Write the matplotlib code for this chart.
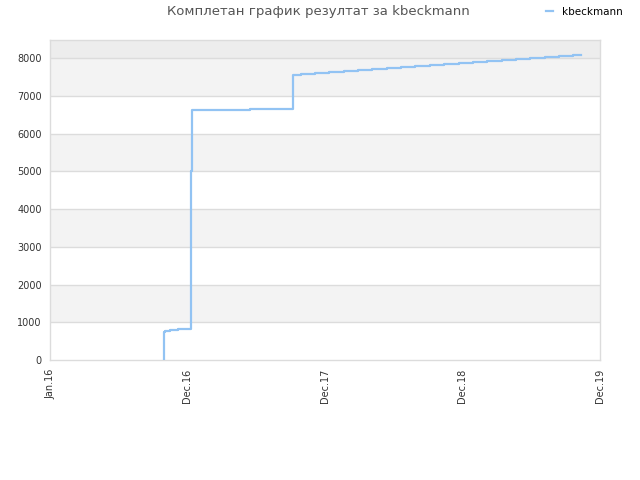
import matplotlib
matplotlib.use("Agg")
import matplotlib.pyplot as plt
import matplotlib.dates as mdates
import pandas as pd

dates = ["2016-10-29", "2016-10-29", "2016-11-01", "2016-11-14", "2016-12-06", "2016-12-30",
         "2017-01-08", "2017-01-11", "2017-01-13", "2017-02-20", "2017-06-15", "2017-10-07",
         "2017-10-28", "2017-12-04", "2018-01-11", "2018-02-19", "2018-03-29", "2018-05-06",
         "2018-06-14", "2018-07-21", "2018-08-27", "2018-10-06", "2018-11-12", "2018-12-22",
         "2019-01-29", "2019-03-07", "2019-04-15", "2019-05-22", "2019-06-28", "2019-08-07",
         "2019-09-13", "2019-10-21", "2019-11-10"]
scores = [0, 733, 760, 786, 813, 830,
          5015, 5139, 6631, 6635, 6657, 7558,
          7585, 7611, 7638, 7664, 7691, 7717,
          7744, 7770, 7797, 7823, 7850, 7876,
          7903, 7929, 7956, 7982, 8009, 8035,
          8062, 8088, 8088]
tick_dates = ["2016-01-01", "2016-12-31", "2017-12-31", "2018-12-31", "2019-12-31"]
tick_labels = ["Jan.16", "Dec.16", "Dec.17", "Dec.18", "Dec.19"]
y_ticks = [0, 1000, 2000, 3000, 4000, 5000, 6000, 7000, 8000]
series_name = "kbeckmann"
title = "Комплетан график резултат за kbeckmann"

x = pd.to_datetime(dates)
fig = plt.figure(figsize=(6.4, 4.8), dpi=100)
ax = fig.add_axes([50/640, 1-360/480, 550/640, 320/480])

ymax = 8480
# background bands
for i, lo in enumerate(y_ticks):
    hi = lo + 1000
    if lo == 8000:
        ax.axhspan(lo, ymax, color="#ededed", zorder=0, lw=0)
    elif i % 2 == 1:
        ax.axhspan(lo, hi, color="#f3f3f3", zorder=0, lw=0)
for t in y_ticks[1:]:
    ax.axhline(t, color="#dcdcdc", lw=1, zorder=1)

ax.step(x, scores, where="post", color="#92c3f3", lw=1.6, zorder=3, label=series_name)

ax.set_xlim(pd.Timestamp("2016-01-01"), pd.Timestamp("2019-12-31"))
ax.set_ylim(0, ymax)
ax.set_yticks(y_ticks)
ax.set_yticklabels([str(v) for v in y_ticks])
ax.set_xticks(pd.to_datetime(tick_dates))
ax.set_xticklabels(tick_labels, rotation=90)
ax.tick_params(length=0, labelsize=7, colors="#333333", pad=6)
for s in ax.spines.values():
    s.set_color("#dcdcdc")
    s.set_linewidth(1)

fig.text(318/640, 1-12/480, title, ha="center", va="center", fontsize=9.5, color="#555555")
fig.legend(loc="upper right", bbox_to_anchor=(0.988, 1.005), frameon=False, fontsize=7.5,
           handlelength=0.7, handletextpad=0.9)

fig.savefig("out.png", dpi=100)
